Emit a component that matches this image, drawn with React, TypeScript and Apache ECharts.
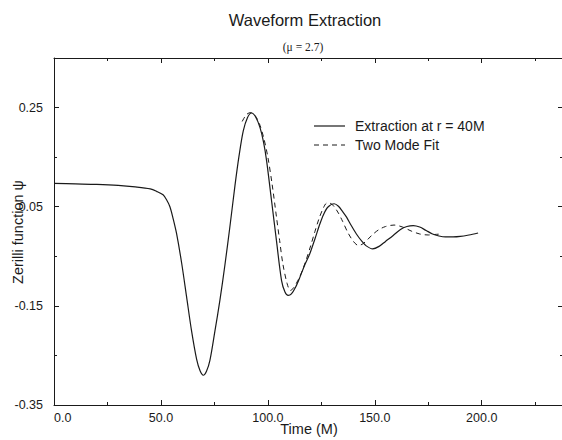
import React, { useEffect, useRef } from "react";
import * as echarts from "echarts";

const titleText = "Waveform Extraction";
const subtitleText = "(\u03bc = 2.7)";
const xAxisName = "Time (M)";
const yAxisName = "Zerilli function \u03c8";
const seriesNames = ["Extraction at r = 40M", "Two Mode Fit"];

const tExtraction = [0, 10, 20, 30, 38, 45, 48, 51, 52.5, 54.2, 55.7, 57.3, 59.7, 62, 64.3, 66.7, 68.3, 69.8, 71.3, 72.9, 75.2, 77.6, 79.9, 82.2, 84.6, 86.5, 88.5, 90.5, 92.4, 94.3, 96.3, 98, 99.4, 101.7, 104, 106.4, 108, 109.5, 111, 113, 115, 117, 119.6, 122, 124.3, 126, 128, 131, 133, 135, 136.8, 139, 141.4, 144, 146, 149, 152, 155, 158.6, 162, 165, 168, 171, 174, 177, 180, 183, 186.6, 190, 194, 198.3];
const psiExtraction = [0.097, 0.096, 0.095, 0.093, 0.09, 0.086, 0.081, 0.074, 0.065, 0.05, 0.026, -0.004, -0.064, -0.132, -0.2, -0.258, -0.281, -0.29, -0.282, -0.26, -0.202, -0.138, -0.068, 0.008, 0.092, 0.152, 0.203, 0.23, 0.239, 0.231, 0.21, 0.18, 0.143, 0.063, -0.018, -0.099, -0.122, -0.129, -0.126, -0.112, -0.092, -0.07, -0.045, -0.015, 0.015, 0.034, 0.049, 0.056, 0.051, 0.04, 0.029, 0.012, -0.005, -0.02, -0.029, -0.035, -0.03, -0.02, -0.008, 0.004, 0.01, 0.012, 0.009, 0.002, -0.005, -0.009, -0.011, -0.011, -0.01, -0.007, -0.003];

const tFit = [88, 90, 92, 94, 96, 98, 100, 102, 104, 105.5, 107, 109, 110.5, 112, 114, 116, 118, 120, 122, 124, 126, 127.5, 129, 131, 133, 135, 137.5, 140, 142.2, 144, 146, 149, 152, 155, 159, 163, 167, 171, 175, 178, 181];
const psiFit = [0.222, 0.236, 0.24, 0.234, 0.218, 0.19, 0.15, 0.095, 0.03, -0.018, -0.065, -0.105, -0.119, -0.114, -0.099, -0.08, -0.056, -0.029, 0.0, 0.027, 0.048, 0.057, 0.057, 0.05, 0.037, 0.02, -0.003, -0.02, -0.028, -0.026, -0.019, -0.006, 0.004, 0.01, 0.013, 0.009, 0.001, -0.005, -0.007, -0.006, -0.005];

const X_MIN = 0;
const X_MAX = 238;
const X_MAJOR = 50;
const X_MINOR = 25;
const Y_MIN = -0.35;
const Y_MAX = 0.35;
const Y_MAJOR = 0.2;
const Y_MINOR = 0.1;

const SANS = "'Liberation Sans', Arial, Helvetica, sans-serif";
const SERIF = "'Liberation Serif', 'Times New Roman', serif";
const INK = "#1a1a1a";

export default function App() {
  const ref = useRef<HTMLDivElement>(null);

  useEffect(() => {
    if (!ref.current) return;
    const chart = echarts.init(ref.current, undefined, { renderer: "svg" });

    const lineStyle = { color: INK, width: 1 };
    const xBase = (position: string, interval: number, tickLen: number, showLine: boolean, showLabel: boolean) => ({
      type: "value",
      position,
      min: X_MIN,
      max: X_MAX,
      interval,
      axisLine: { show: showLine, onZero: false, lineStyle },
      axisTick: { show: true, inside: true, length: tickLen, lineStyle },
      axisLabel: {
        show: showLabel,
        margin: 6,
        fontFamily: SANS,
        fontSize: 12.5,
        color: INK,
        alignMinLabel: "left",
        formatter: (v: number) => (v > 225 ? "" : v.toFixed(1)),
      },
      splitLine: { show: false },
    });
    const yBase = (position: string, interval: number, tickLen: number, showLine: boolean, showLabel: boolean) => ({
      type: "value",
      position,
      min: Y_MIN,
      max: Y_MAX,
      interval,
      axisLine: { show: showLine, onZero: false, lineStyle },
      axisTick: { show: true, inside: true, length: tickLen, lineStyle },
      axisLabel: {
        show: showLabel,
        margin: 11,
        fontFamily: SANS,
        fontSize: 12.5,
        color: INK,
        formatter: (v: number) => (v > 0.3 ? "" : v.toFixed(2)),
      },
      splitLine: { show: false },
    });

    const legendItems = seriesNames.map((name, i) => {
      const y = 126 + i * 19;
      return [
        {
          type: "line",
          shape: { x1: 314, y1: y, x2: 345, y2: y },
          style: { stroke: INK, lineWidth: i === 0 ? 1.2 : 1, lineDash: i === 0 ? null : [5, 4] },
        },
        {
          type: "text",
          x: 355,
          y,
          style: { text: name, font: `14px ${SANS}`, fill: INK, align: "left", verticalAlign: "middle" },
        },
      ];
    }).flat();

    chart.setOption({
      animation: false,
      backgroundColor: "#ffffff",
      grid: { left: 54, top: 58, width: 509, height: 347, containLabel: false },
      xAxis: [
        xBase("bottom", X_MAJOR, 5, true, true),
        xBase("bottom", X_MINOR, 3, false, false),
        xBase("top", X_MAJOR, 5, true, false),
        xBase("top", X_MINOR, 3, false, false),
      ],
      yAxis: [
        yBase("left", Y_MAJOR, 5, true, true),
        yBase("left", Y_MINOR, 3, false, false),
        yBase("right", Y_MAJOR, 5, true, false),
        yBase("right", Y_MINOR, 3, false, false),
      ],
      graphic: [
        {
          type: "text",
          x: 305,
          y: 20,
          style: { text: titleText, font: `16.5px ${SANS}`, fill: INK, align: "center", verticalAlign: "middle" },
        },
        {
          type: "text",
          x: 303,
          y: 47,
          style: { text: subtitleText, font: `11.5px ${SERIF}`, fill: INK, align: "center", verticalAlign: "middle" },
        },
        {
          type: "text",
          x: 309,
          y: 429,
          style: { text: xAxisName, font: `14.5px ${SANS}`, fill: INK, align: "center", verticalAlign: "middle" },
        },
        {
          type: "text",
          x: 18,
          y: 232,
          rotation: Math.PI / 2,
          style: { text: yAxisName, font: `14.5px ${SANS}`, fill: INK, align: "center", verticalAlign: "middle" },
        },
        ...legendItems,
      ],
      series: [
        {
          type: "line",
          name: seriesNames[0],
          xAxisIndex: 0,
          yAxisIndex: 0,
          data: tExtraction.map((t, i) => [t, psiExtraction[i]]),
          symbol: "none",
          showSymbol: false,
          smooth: 0.3,
          color: INK,
          lineStyle: { color: INK, width: 1.2 },
        },
        {
          type: "line",
          name: seriesNames[1],
          xAxisIndex: 0,
          yAxisIndex: 0,
          data: tFit.map((t, i) => [t, psiFit[i]]),
          symbol: "none",
          showSymbol: false,
          smooth: 0.3,
          color: INK,
          lineStyle: { color: INK, width: 1, type: [5, 4] },
        },
      ],
    });

    return () => chart.dispose();
  }, []);

  return (
    <div style={{ position: "fixed", left: 0, top: 0, width: 562, height: 440, overflow: "hidden", background: "#fff" }}>
      <div ref={ref} style={{ width: 580, height: 440 }} />
    </div>
  );
}
